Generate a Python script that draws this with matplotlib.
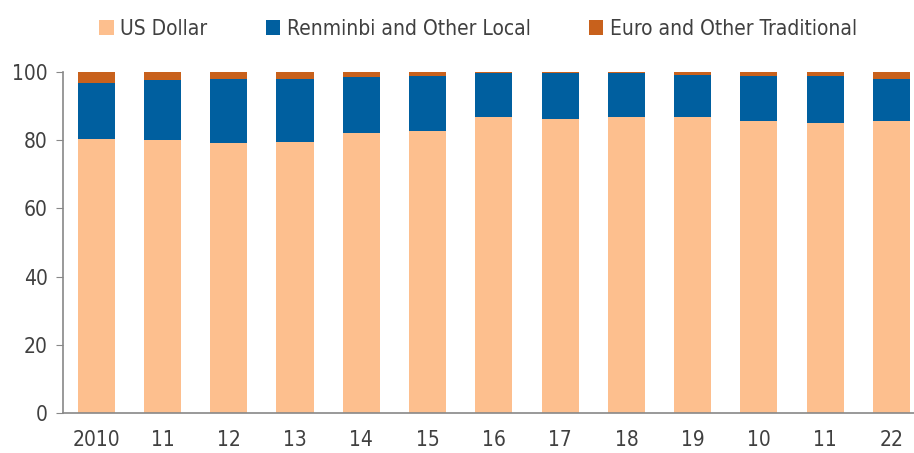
import matplotlib
matplotlib.use("Agg")
import matplotlib.pyplot as plt
import numpy as np

years = ["2010", "11", "12", "13", "14", "15", "16", "17", "18", "19", "10", "11", "22"]
us_dollar = [80.3, 80.0, 79.2, 79.6, 82.2, 82.6, 86.7, 86.3, 86.7, 86.7, 85.5, 85.2, 85.5]
renminbi = [16.6, 17.7, 18.8, 18.4, 16.2, 16.2, 12.9, 13.3, 12.9, 12.4, 13.2, 13.5, 12.5]
euro = [3.1, 2.3, 2.0, 2.0, 1.6, 1.2, 0.4, 0.4, 0.4, 0.9, 1.3, 1.3, 2.0]

plt.rcParams["font.family"] = ["DejaVu Sans"]
plt.rcParams["font.stretch"] = "condensed"
text_col = "#404040"

fig = plt.figure(figsize=(9.14, 4.53), dpi=100)
ax = fig.add_axes([0.069, 0.088, 0.931, 0.753])

x = np.arange(len(years))
w = 0.56
us = np.array(us_dollar)
rmb = np.array(renminbi)
ax.bar(x, us, w, color="#FDBF8E", label="US Dollar")
ax.bar(x, rmb, w, bottom=us, color="#005F9F", label="Renminbi and Other Local")
ax.bar(x, euro, w, bottom=us + rmb, color="#C8611C", label="Euro and Other Traditional")

ax.set_xlim(-0.5, 12.34)
ax.set_ylim(0, 100)
ax.set_yticks(range(0, 101, 20))
ax.set_xticks(x)
ax.set_xticklabels(years)

for s in ["top", "right"]:
    ax.spines[s].set_visible(False)
for s in ["left", "bottom"]:
    ax.spines[s].set_color("#888888")
    ax.spines[s].set_linewidth(1.2)

ax.tick_params(axis="y", length=5, color="#888888", labelsize=15, labelcolor=text_col, pad=6)
ax.tick_params(axis="x", length=0, labelsize=15, labelcolor=text_col, pad=12)

fig.legend(loc="upper center", bbox_to_anchor=(0.523, 1.0), ncol=3, frameon=False,
           fontsize=15, handlelength=0.7, handleheight=0.7, handletextpad=0.3,
           columnspacing=2.8, labelcolor=text_col)

fig.savefig("out.png", dpi=100)
